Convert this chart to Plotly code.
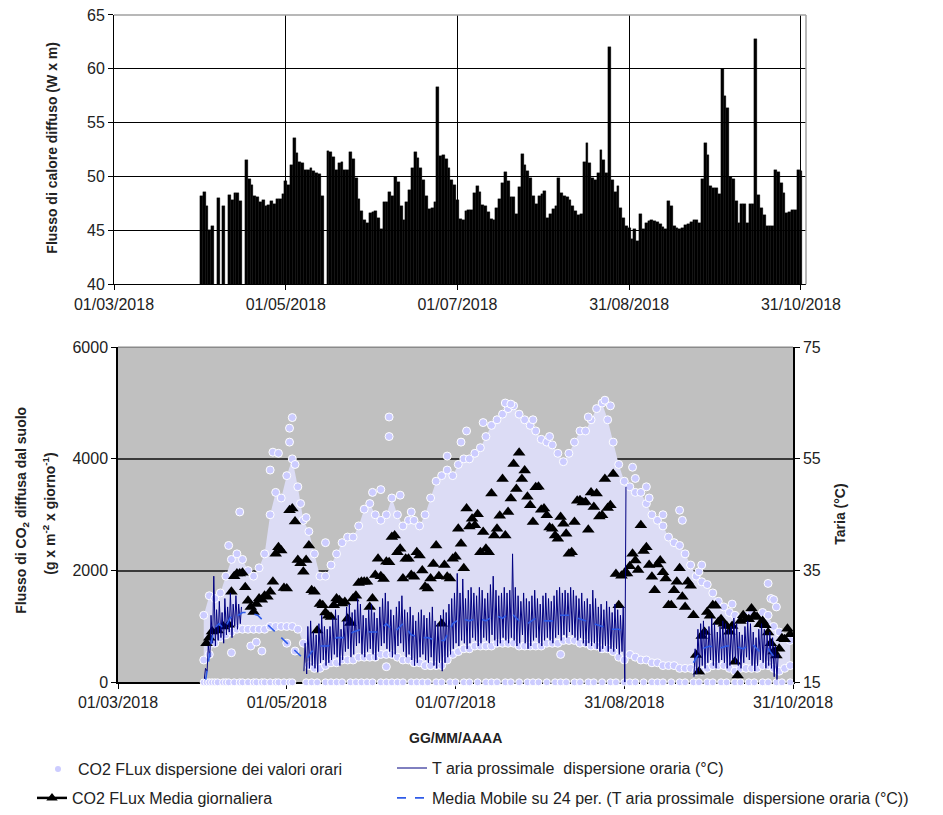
import pandas as pd
import plotly.graph_objects as go

# the page body adds an 8 px margin, so the figure is 8 px smaller than the window
OFF = 8
W, H = 943 - OFF, 815 - OFF
BASE = pd.Timestamp("2018-03-01")


def fx(px):
    return (px - OFF) / W


def fy(py):
    return 1 - (py - OFF) / H


def dd(d):
    """day offset from 01/03/2018 -> timestamp string"""
    if d is None:
        return None
    return (BASE + pd.to_timedelta(d, unit="D")).strftime("%Y-%m-%d %H:%M")


# ---------------- top chart: daily heat flux (W x m) ----------------
heat_apr = [48.2, 48.6, 47.3, 45.0, 45.4, None, 48.0, None, 47.3, None,
            48.3, 47.8, 48.5, 48.5, 47.7, None, 51.5, 49.8, 49.2, 48.2,
            48.1, 47.6, 47.8, 47.3, 47.4, 47.7, 47.5, 47.9, 47.9, 48.4]
heat_may = [49.6, 49.2, 51.1, 53.6, 52.2, 51.4, 51.3, 50.6, 50.6, 50.8,
            50.5, 50.3, 50.2, 48.2, None, 52.4, 52.3, 51.8, 50.6, 51.3,
            51.4, 50.6, 50.6, 52.3, 51.6, 49.9, 47.9, 46.8, 46.0, 45.7, 46.6]
heat_jun = [46.7, 46.8, 46.2, 45.1, 47.6, 47.6, 48.6, 48.2, 50.0, 49.5,
            47.3, 46.0, 47.6, 48.8, 50.8, 52.3, 51.7, 50.8, 49.7, 48.2,
            47.0, 47.1, 47.6, 58.3, 51.9, 52.0, 51.6, 50.8, 49.7, 49.2]
heat_jul = [47.8, 46.1, 46.0, 46.8, 46.9, 46.9, 48.5, 49.1, 48.6, 47.4,
            47.3, 46.7, 46.1, 46.0, 47.1, 47.9, 49.4, 50.4, 49.6, 48.1,
            48.1, 46.5, 49.0, 52.1, 51.1, 50.5, 49.9, 48.2, 47.5, 48.2, 48.4]
heat_aug = [48.7, 46.2, 46.5, 47.0, 47.3, 49.9, 48.5, 48.2, 48.1, 47.8,
            47.3, 46.8, 46.4, 46.5, 51.4, 53.1, 51.3, 49.9, 49.7, 50.3,
            52.5, 51.5, 50.3, 62.0, 49.7, 48.6, 49.1, 47.1, 46.2, 45.4, 45.2]
heat_sep = [44.2, 45.1, 44.0, 46.5, 45.1, 45.7, 45.9, 46.0, 45.9, 45.8,
            45.6, 45.3, 45.1, 47.7, 47.3, 45.4, 45.2, 45.1, 45.2, 45.5,
            45.6, 45.8, 46.0, 46.0, 45.7, 49.8, 53.1, 52.0, 49.1, 48.9]
heat_oct = [48.9, 48.4, 60.0, 57.5, 56.4, 50.0, 49.8, 47.7, 45.7, 47.5,
            47.5, 45.7, 47.5, 47.5, 62.8, 48.3, 47.1, 46.4, 45.4, 45.4,
            45.4, 50.6, 50.4, 49.4, 48.5, 46.6, 46.7, 46.9, 46.9, 50.6, 50.5]
heat_flux = heat_apr + heat_may + heat_jun + heat_jul + heat_aug + heat_sep + heat_oct
heat_dates = pd.date_range("2018-04-01", "2018-10-31", freq="D").strftime("%Y-%m-%d").tolist()
assert len(heat_flux) == len(heat_dates)

# ---------------- bottom chart ----------------
tick_days = [0, 61, 122, 183, 244]
tick_labels = ["01/03/2018", "01/05/2018", "01/07/2018", "31/08/2018", "31/10/2018"]

# CO2 daily mean (g m-2 d-1)
mean_days_early = [32, 33, 34, 36, 38]
mean_vals_early = [700, 800, 910, 930, 1000]
mean_first_day = 40
mean_vals = [1030, 1620, 1900, 1950, 1950, 1960, 1700, 1460, 1350, 1260,   # 40-49
             1400, 1500, 1480, 1550, 1530, 1620, 1800, 2300, 2420, 2360,   # 50-59
             1690, 1680, 3080, 3110, 2880, 2190, 2130, 1980, 2190, 2450,   # 60-69
             1650, 1620, 930, 1400, 1380, 1250, 1190, 1170, 1380, 1500,    # 70-79
             1470, 1410, 1440, 1140, 1060, 1500, 1550, 1780, 1800, 1800,   # 80-89
             1800, 1350, 1500, 1920, 2210, 1900, 1850, 2160, 2150, 2600,   # 90-99
             2630, 2330, 2390, 1860, 2210, 2210, 1920, 1890, 2330, 2270,   # 100-109
             2000, 1710, 1680, 1860, 2120, 2450, 1900, 1050, 2100, 1890,   # 110-119
             1860, 2210, 2250, 2750, 2480, 2040, 3110, 2790, 2930, 2810,   # 120-129
             3010, 2330, 2690, 2390, 2330, 3380, 2630, 2750, 2980, 3640,   # 130-139
             2630, 3050, 3290, 3910, 3460, 4110, 3640, 3790, 3320, 3170,   # 140-149
             2870, 3490, 3500, 3090, 3110, 2990, 2770, 2750, 2630, 2570,   # 150-159
             2960, 2840, 2660, 2300, 2330, 2870, 3250, 3260, 3220, 3230,   # 160-169
             2730, 3400, 3140, 3380, 2970, 2990, 3640, 3120, 3170, 3730,   # 170-179
             1940, 1380, 1910, 1950, 1950, 2080, 2300, 2180, 2010, 2810,   # 180-189
             2350, 2420, 2100, 1890, 1650, 2110, 2180, 1970, 1860, 1380,   # 190-199
             1380, 1650, 1800, 2040, 1530, 1350, 1800, 1730, 1200, 490,    # 200-209
             190, 830, 900, 1260, 1190, 1380, 1370, 1080, 1130, 1050,      # 210-219
             1010, 905, 1010, 370, 120, 1100, 1200, 1130, 1130, 1320,      # 220-229
             1190, 1170, 1040, 1100, 1020, 890, 700, 550, 480, 600,        # 230-239
             790, 770, 960, 860]                                           # 240-243
mean_days = mean_days_early + list(range(mean_first_day, mean_first_day + len(mean_vals)))
mean_all = mean_vals_early + mean_vals

# hourly CO2 scatter: envelope of the dense cloud (every 2 days)
band_days = list(range(31, 244, 2))
band_hi = [1200, 1550, 1500, 1600, 1900, 2200, 2300, 2200, 2000, 1900,
           2050, 2300, 3000, 3400, 3300, 3700, 4000, 3500, 2900, 2700,
           2300, 1900, 1900, 2100, 2300, 2500, 2600, 2600, 2800, 3100,
           3200, 3000, 2900, 3000, 3300, 3000, 2800, 2900, 2900, 2800,
           3000, 3300, 3600, 3700, 3800, 3700, 3900, 4000, 4000, 4100,
           4200, 4400, 4600, 4700, 4800, 4900, 4950, 4800, 4700, 4600,
           4500, 4350, 4300, 4250, 4100, 3950, 4100, 4300, 4500, 4500,
           4700, 4900, 5000, 4700, 4300, 3900, 3600, 3500, 3400, 3400,
           3200, 3000, 2900, 2800, 2600, 2500, 2450, 2300, 2100, 1900,
           1800, 1750, 1600, 1450, 1350, 1250, 1200, 1150, 1200, 1250,
           1200, 1250, 1200, 1000, 900, 800, 750]
band_lo = [400, 500, 700, 800, 850, 900, 950, 950, 950, 950,
           950, 950, 1000, 1000, 1000, 1000, 1000, 950, 700, 300,
           250, 250, 300, 350, 350, 400, 400, 400, 450, 450,
           450, 450, 500, 500, 500, 450, 400, 400, 350, 350,
           300, 300, 300, 300, 400, 500, 550, 600, 600, 650,
           650, 650, 650, 700, 700, 700, 700, 650, 650, 650,
           650, 650, 700, 700, 700, 750, 750, 750, 700, 700,
           650, 650, 600, 600, 550, 450, 400, 500, 450, 400,
           400, 350, 350, 300, 300, 300, 250, 250, 250, 200,
           200, 250, 300, 300, 300, 250, 200, 250, 250, 250,
           250, 300, 300, 250, 200, 250, 300]
assert len(band_hi) == len(band_days) == len(band_lo)

out_days = [40, 44, 41, 48, 50, 52, 61, 64, 55, 56, 58, 62, 62, 63, 64, 66, 68, 75,
            92, 95, 98, 98, 102, 106, 97, 113, 119, 126, 124, 132, 140, 142, 150,
            156, 170, 176, 178, 186, 187, 191, 192, 197, 203, 204, 210, 211, 222,
            235, 236, 237, 238, 215, 160]
out_vals = [2450, 3050, 530, 650, 720, 560, 700, 560, 3800, 4120, 4100, 4300, 4550,
            4740, 3900, 3200, 2950, 2500, 3400, 3450, 4400, 4750, 3350, 3050, 280,
            300, 4050, 4500, 4300, 4650, 5000, 4980, 4700, 4400, 4750, 5050, 4950,
            3850, 3650, 3500, 3300, 3000, 3080, 2900, 1980, 2100, 1400, 1770, 1500,
            1480, 1350, 300, 500]
assert len(out_days) == len(out_vals)

zero_days = [31, 32, 33, 34, 35, 36, 38, 39, 40, 42, 44, 45, 47, 49, 50, 52, 53, 55,
             57, 58, 60, 62, 63, 68, 70, 72, 75, 77, 79, 81, 84, 86, 88, 90, 92, 95,
             97, 99, 101, 103, 106, 108, 110, 112, 115, 117, 120, 122, 125, 127, 130,
             133, 135, 137, 140, 142, 145, 148, 150, 152, 155, 158, 160, 162, 165, 167,
             170, 172, 175, 178, 180, 183, 185, 187, 190, 193, 195, 197, 200, 203, 205,
             208, 210, 213, 215, 218, 220, 223, 225, 228, 230, 233, 235, 238, 240, 243]

# air temperature (deg C): daily min / max of the hourly record, three segments
tA_start = 31
tmin_A = [15.6, 17.0, 19.5, 22.0, 21.5, 22.5, 23.0, 22.0, 23.5, 24.0, 23.0, 25.0, 24.5, 25.5]
tmax_A = [17.5, 21.5, 27.0, 34.0, 28.0, 29.5, 27.5, 30.0, 28.5, 31.0, 29.0, 30.5, 29.0, 28.5]
tB_start = 67
tmin_B = [17.0, 16.5, 17.5, 18.0, 17.5, 16.8, 18.5, 19.0, 18.0,
          18.5, 19.0, 20.0, 19.5, 18.0, 19.0, 20.5, 21.0, 19.5, 20.0, 21.5, 22.0, 20.0, 19.5, 20.5,
          21.0, 20.0, 19.0, 20.5, 21.5, 22.0, 21.0, 20.5, 19.5, 20.0, 21.5, 22.0, 20.5, 19.5, 20.0,
          19.0, 18.0, 18.5, 19.5, 20.0, 19.0, 18.5, 19.5, 18.0, 17.5, 18.5, 17.0, 18.5, 19.5, 20.0,
          21.0, 22.0, 21.5, 22.5, 22.0, 21.0, 22.0, 23.0, 22.5, 21.5, 22.0, 23.0, 22.5, 22.0, 23.5,
          22.5, 21.5, 22.0, 23.0, 22.5,
          22.0, 23.0, 22.5, 21.5, 22.0, 23.5, 22.0, 21.0, 21.5, 22.5, 23.0, 22.0, 21.5, 22.5, 23.0,
          22.5, 22.0, 23.0, 23.5, 22.5,
          23.5, 23.0, 24.0, 23.5, 23.0, 22.5, 23.0, 22.0, 21.5, 22.0, 21.5, 22.0, 21.0, 20.5, 21.0,
          21.5, 20.5, 21.0, 20.5, 21.0, 20.0, 20.5, 15.0]
tmax_B = [22.0, 25.0, 26.0, 24.0, 23.5, 25.5, 27.0, 25.0, 24.5,
          25.0, 26.5, 28.0, 27.0, 24.5, 26.0, 28.5, 29.0, 27.5, 28.0, 30.0, 29.0, 27.0, 26.5, 28.0,
          29.0, 27.5, 26.5, 28.5, 30.0, 31.0, 29.5, 28.0, 27.0, 28.5, 29.5, 30.5, 28.0, 27.5, 28.5,
          27.0, 26.0, 27.5, 28.0, 27.0, 26.5, 27.5, 28.5, 26.0, 25.5, 27.0, 28.0, 27.5, 29.0, 30.0,
          31.0, 34.5, 31.0, 33.5, 30.0, 31.5, 32.0, 31.0, 30.5, 32.0, 31.5, 30.0, 31.0, 32.5, 34.0,
          31.5, 30.5, 31.0, 32.0, 31.0,
          31.5, 38.0, 32.0, 30.5, 29.5, 31.0, 30.0, 29.5, 30.5, 31.5, 30.0, 29.0, 30.5, 31.0, 30.0,
          29.5, 30.5, 31.5, 32.0, 31.0,
          31.5, 31.0, 32.0, 31.5, 30.5, 30.0, 31.0, 29.5, 30.0, 29.0, 31.5, 30.0, 28.5, 29.0, 28.0,
          29.5, 28.5, 27.5, 29.0, 28.0, 27.0, 28.5, 50.0]
tC_start = 208
tmin_C = [16.0, 16.5, 17.0, 18.0, 17.5, 18.5, 19.0, 18.0, 17.5, 18.5,
          19.0, 18.5, 17.5, 18.0, 19.0, 18.5, 18.0, 17.5, 18.5, 19.5,
          19.0, 18.0, 17.0, 18.0, 19.0, 18.5, 17.5, 18.0, 17.5, 16.0, 15.5]
tmax_C = [21.0, 24.5, 25.5, 26.0, 24.5, 25.0, 26.5, 25.5, 24.0, 25.0,
          26.0, 25.5, 24.5, 25.0, 26.5, 25.5, 24.0, 23.5, 25.0, 26.0,
          25.5, 24.0, 23.0, 24.5, 25.5, 24.5, 23.5, 24.0, 23.0, 21.5, 20.0]
assert len(tmin_A) == len(tmax_A) and len(tmin_B) == len(tmax_B) and len(tmin_C) == len(tmax_C)

# 24-period moving average of air temperature (deg C)
ma_days = [31.7, 32.5, 33.5, 34.5, 35.5, 36.5, 37.5, 38.5, 39.5, 40.5, 41.5, 42.5, 43.5,
           45, 47.5, 50.5, 66.5, 68, 70,
           73, 76, 79, 82, 85, 88, 91, 94, 97, 100, 103, 106, 109, 112, 115, 118, 121, 124,
           127, 130, 133, 136, 139, 142, 145, 148, 151, 154, 157, 160, 163, 166, 169, 172,
           175, 178, 181, 183, None,
           208, 211, 214, 217, 220, 223, 226, 229, 232, 235, 238]
ma_vals = [15.5, 18.0, 21.5, 24.5, 25.0, 25.5, 25.0, 26.0, 25.5, 26.5, 27.0, 27.5, 27.0,
           27.5, 27.5, 27.0, 19.5, 19.0, 20.5,
           21.5, 21.5, 23.0, 23.0, 24.0, 24.5, 24.0, 24.0, 25.5, 24.0, 25.5, 23.5, 23.0, 23.0,
           22.5, 22.5, 25.5, 26.5, 26.0, 26.5, 26.0, 27.0, 26.5, 27.5, 26.0, 25.5, 26.5, 26.0,
           26.0, 27.0, 27.0, 26.5, 26.0, 25.5, 25.0, 24.5, 24.5, 24.0, None,
           18.5, 21.0, 21.5, 21.0, 21.5, 21.5, 21.0, 22.0, 20.5, 21.0, 19.0]
assert len(ma_days) == len(ma_vals)

# ---------------- build hourly temperature path ----------------
tx, ty = [], []
for start, mins, maxs in [(tA_start, tmin_A, tmax_A), (tB_start, tmin_B, tmax_B), (tC_start, tmin_C, tmax_C)]:
    for i, (mn, mx) in enumerate(zip(mins, maxs)):
        d = start + i
        tx += [dd(d + 5 / 24), dd(d + 15 / 24)]
        ty += [mn, mx]
    tx.append(None)
    ty.append(None)

FONT = "Liberation Sans, Arial, sans-serif"
LAV = "#ccccff"
TXT = "#222222"

fig = go.Figure()

# top bars
fig.add_trace(go.Bar(x=heat_dates, y=heat_flux, xaxis="x", yaxis="y",
                     marker=dict(color="black", line=dict(color="black", width=0.3)),
                     showlegend=False))

# hourly CO2 cloud
fig.add_trace(go.Scatter(x=[dd(d) for d in band_days] + [dd(d) for d in band_days[::-1]],
                         y=band_hi + band_lo[::-1], xaxis="x2", yaxis="y2",
                         mode="lines", fill="toself", fillcolor="#dcdcf5",
                         line=dict(width=0), hoverinfo="skip", showlegend=False))
fig.add_trace(go.Scatter(x=[dd(d) for d in band_days + band_days + out_days],
                         y=band_hi + band_lo + out_vals, xaxis="x2", yaxis="y2",
                         mode="markers",
                         marker=dict(size=8, color=LAV, line=dict(color="white", width=1)),
                         showlegend=False))
fig.add_trace(go.Scatter(x=[dd(d) for d in zero_days], y=[0] * len(zero_days),
                         xaxis="x2", yaxis="y2", mode="markers", cliponaxis=False,
                         marker=dict(size=7, color=LAV, line=dict(color="white", width=1)),
                         showlegend=False))

# daily mean triangles
fig.add_trace(go.Scatter(x=[dd(d) for d in mean_days], y=mean_all, xaxis="x2", yaxis="y2",
                         mode="markers", marker=dict(symbol="triangle-up", size=11, color="black"),
                         showlegend=False))

# temperature
fig.add_trace(go.Scatter(x=tx, y=ty, xaxis="x2", yaxis="y3", mode="lines",
                         line=dict(color="#000080", width=1), connectgaps=False,
                         name="T aria prossimale  dispersione oraria (°C)", legend="legend3"))
fig.add_trace(go.Scatter(x=[dd(d) for d in ma_days], y=ma_vals, xaxis="x2", yaxis="y3",
                         mode="lines", line=dict(color="#2f5be8", width=1.6, dash="dash"),
                         connectgaps=False,
                         name="Media Mobile su 24 per. (T aria prossimale  dispersione oraria (°C))",
                         legend="legend4"))

# legend-only entries
fig.add_trace(go.Scatter(x=[None], y=[None], xaxis="x2", yaxis="y2", mode="markers",
                         marker=dict(size=6, color=LAV),
                         name="CO2 FLux dispersione dei valori orari", legend="legend"))
fig.add_trace(go.Scatter(x=[None], y=[None], xaxis="x2", yaxis="y2", mode="lines+markers",
                         line=dict(color="black", width=2.5),
                         marker=dict(symbol="triangle-up", size=10, color="black"),
                         name="CO2 FLux Media giornaliera", legend="legend2"))

tickfont = dict(family=FONT, size=16, color=TXT)
tickvals = [dd(d) for d in tick_days]
legfont = dict(family=FONT, size=16, color=TXT)
titlefont = dict(family=FONT, size=14, color=TXT)

common_axis = dict(tickfont=tickfont, ticks="outside", ticklen=5, tickcolor="black",
                   zeroline=False, automargin=False, ticklabeloverflow="allow")

fig.update_layout(
    width=W, height=H, autosize=False,
    margin=dict(l=0, r=0, t=0, b=0),
    paper_bgcolor="white", plot_bgcolor="white",
    bargap=0,
    font=dict(family=FONT, size=16, color=TXT),
    xaxis=dict(domain=[fx(114), fx(806)], anchor="y", range=[dd(0), dd(245.8)],
               tickvals=tickvals, ticktext=tick_labels,
               showgrid=True, gridcolor="black", gridwidth=1,
               showline=True, linecolor="black", linewidth=1, **common_axis),
    yaxis=dict(domain=[fy(285), fy(15)], anchor="x", range=[40, 65],
               tickvals=[40, 45, 50, 55, 60, 65],
               showgrid=True, gridcolor="black", gridwidth=1,
               showline=True, linecolor="black", linewidth=1, **common_axis),
    xaxis2=dict(domain=[fx(118), fx(793)], anchor="y2", range=[dd(0), dd(244)],
                tickvals=tickvals, ticktext=tick_labels,
                showgrid=False, showline=True, linecolor="black", linewidth=1.5,
                layer="below traces", **common_axis),
    yaxis2=dict(domain=[fy(684), fy(348)], anchor="x2", range=[0, 6000],
                tickvals=[0, 2000, 4000, 6000],
                showgrid=True, gridcolor="#3a3a3a", gridwidth=1.5,
                showline=True, linecolor="black", linewidth=1.5, **common_axis),
    yaxis3=dict(overlaying="y2", anchor="x2", side="right", range=[15, 75],
                tickvals=[15, 35, 55, 75], showgrid=False,
                showline=True, linecolor="black", linewidth=1.5, **common_axis),
    legend=dict(x=fx(38), y=fy(771), xanchor="left", yanchor="middle",
                bgcolor="rgba(0,0,0,0)", font=legfont),
    legend2=dict(x=fx(32), y=fy(800), xanchor="left", yanchor="middle",
                 bgcolor="rgba(0,0,0,0)", font=legfont),
    legend3=dict(x=fx(392), y=fy(770), xanchor="left", yanchor="middle",
                 bgcolor="rgba(0,0,0,0)", font=legfont),
    legend4=dict(x=fx(392), y=fy(800), xanchor="left", yanchor="middle",
                 bgcolor="rgba(0,0,0,0)", font=legfont),
    shapes=[
        dict(type="rect", xref="x2 domain", yref="y2 domain", x0=0, x1=1, y0=0, y1=1,
             fillcolor="#c0c0c0", line=dict(width=0), layer="below"),
        dict(type="line", xref="x domain", yref="y domain", x0=0, x1=1, y0=1, y1=1,
             line=dict(color="#a0a0a0", width=1.5), layer="above"),
        dict(type="line", xref="x domain", yref="y domain", x0=1, x1=1, y0=0, y1=1,
             line=dict(color="#a0a0a0", width=1.5), layer="above"),
        dict(type="line", xref="x2 domain", yref="y2 domain", x0=0, x1=1, y0=1, y1=1,
             line=dict(color="#8a8a8a", width=1.5), layer="above"),
    ],
    annotations=[
        dict(text="<b>Flusso di calore diffuso (W x m)</b>", x=fx(52), y=fy(148),
             xref="paper", yref="paper", xanchor="center", yanchor="middle",
             textangle=-90, showarrow=False, font=titlefont),
        dict(text="<b>Flusso di CO<sub>2</sub> diffusa dal suolo</b>", x=fx(22), y=fy(512),
             xref="paper", yref="paper", xanchor="center", yanchor="middle",
             textangle=-90, showarrow=False, font=titlefont),
        dict(text="<b>(g x m<sup>-2</sup> x giorno<sup>-1</sup>)</b>", x=fx(49), y=fy(515),
             xref="paper", yref="paper", xanchor="center", yanchor="middle",
             textangle=-90, showarrow=False, font=titlefont),
        dict(text="<b>Taria (°C)</b>", x=fx(840), y=fy(516),
             xref="paper", yref="paper", xanchor="center", yanchor="middle",
             textangle=-90, showarrow=False, font=titlefont),
        dict(text="<b>GG/MM/AAAA</b>", x=fx(455), y=fy(740),
             xref="paper", yref="paper", xanchor="center", yanchor="middle",
             showarrow=False, font=titlefont),
    ],
)

fig.write_html("out.html")
